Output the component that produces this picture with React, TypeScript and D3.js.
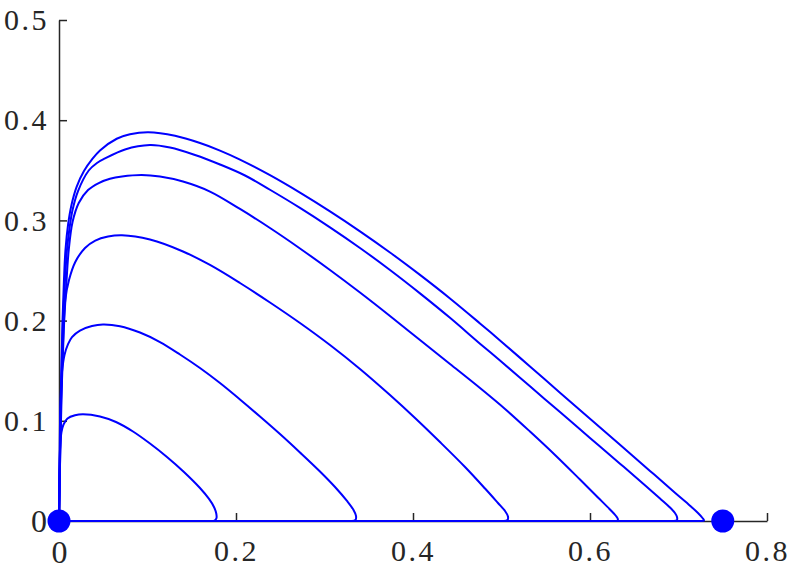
import { select, scaleLinear, line, curveCatmullRom, axisBottom, axisLeft } from "d3";
import React, { useEffect, useRef } from "react";

const xTicks = [0, 0.2, 0.4, 0.6, 0.8];
const yTicks = [0, 0.1, 0.2, 0.3, 0.4, 0.5];
const equilibria = [0, 0.75];

// orbits, smallest to largest; each one comes back along y = 0
const orbit1 = [
    [0, 0], [0.0005, 0.0509], [0.0014, 0.0758], [0.0028, 0.0888], [0.0051, 0.0963], [0.0096, 0.1023],
    [0.0181, 0.1055], [0.0271, 0.1065], [0.0463, 0.1043], [0.0644, 0.0988], [0.0836, 0.0893],
    [0.1028, 0.0773], [0.122, 0.0639], [0.1412, 0.0489], [0.1593, 0.0329], [0.1695, 0.022],
    [0.1751, 0.014], [0.1777, 0.0075], [0.1779, 0.0027], [0.1757, 0.0004], [0.1718, 0], [0, 0],
];
const orbit2 = [
    [0, 0], [0.0009, 0.0808], [0.0017, 0.1208], [0.0034, 0.1487], [0.0062, 0.1657], [0.0102, 0.1766],
    [0.0147, 0.1836], [0.0237, 0.1901], [0.0373, 0.1946], [0.0497, 0.1961], [0.0689, 0.1944],
    [0.0915, 0.1881], [0.1141, 0.1786], [0.1367, 0.1662], [0.1593, 0.1527], [0.1819, 0.1377],
    [0.2045, 0.1213], [0.2271, 0.1043], [0.2497, 0.0868], [0.2723, 0.0684], [0.2949, 0.0494],
    [0.3119, 0.0339], [0.3254, 0.02], [0.3328, 0.011], [0.3356, 0.005], [0.335, 0.001], [0.3311, 0], [0, 0],
];
const orbit3 = [
    [0, 0], [0.0015, 0.0908], [0.0028, 0.1407], [0.0045, 0.1776], [0.0071, 0.2206], [0.0113, 0.2405],
    [0.0184, 0.2585], [0.0294, 0.2725], [0.041, 0.2799], [0.0554, 0.2839], [0.0712, 0.2852],
    [0.1028, 0.2809], [0.1401, 0.269], [0.1706, 0.2555], [0.2045, 0.2375], [0.2384, 0.2181],
    [0.2723, 0.1976], [0.3062, 0.1756], [0.3401, 0.1517], [0.374, 0.1257], [0.4023, 0.1028],
    [0.4305, 0.0788], [0.4588, 0.0539], [0.4814, 0.0324], [0.496, 0.018], [0.504, 0.01],
    [0.5073, 0.0045], [0.5068, 0.001], [0.5028, 0], [0, 0],
];
const orbit4 = [
    [0, 0], [0.0017, 0.0808], [0.0034, 0.1407], [0.0054, 0.1906], [0.0079, 0.2305], [0.011, 0.2705],
    [0.0153, 0.2984], [0.0223, 0.3174], [0.0328, 0.3303], [0.0449, 0.3373], [0.0576, 0.3415],
    [0.0712, 0.3438], [0.0934, 0.3453], [0.1141, 0.3438], [0.1401, 0.3388], [0.1706, 0.3288],
    [0.2045, 0.3114], [0.2384, 0.2924], [0.2723, 0.272], [0.3062, 0.2505], [0.3401, 0.228],
    [0.374, 0.2046], [0.4079, 0.1806], [0.4418, 0.1567], [0.4757, 0.1327], [0.504, 0.1118],
    [0.5322, 0.0893], [0.5605, 0.0659], [0.5887, 0.0414], [0.609, 0.0235], [0.6226, 0.0115],
    [0.6294, 0.005], [0.6316, 0.0015], [0.6305, 0.0002], [0.626, 0], [0, 0],
];
const orbit5 = [
    [0, 0], [0.0016, 0.0808], [0.0028, 0.1407], [0.0045, 0.2006], [0.0068, 0.2405], [0.009, 0.2705],
    [0.0119, 0.2924], [0.0153, 0.3104], [0.0215, 0.3293], [0.0336, 0.3498], [0.0429, 0.3573],
    [0.052, 0.3618], [0.0746, 0.3708], [0.1028, 0.3752], [0.1254, 0.3727], [0.1537, 0.3653],
    [0.1819, 0.3558], [0.2102, 0.3448], [0.2384, 0.3306], [0.2723, 0.3125], [0.3062, 0.2931],
    [0.3401, 0.2725], [0.374, 0.2505], [0.4079, 0.2272], [0.4418, 0.2028], [0.4757, 0.177],
    [0.4983, 0.1602], [0.5322, 0.1344], [0.5661, 0.1087], [0.6, 0.0829], [0.6339, 0.0572],
    [0.6621, 0.0357], [0.6791, 0.0225], [0.6904, 0.0135], [0.696, 0.008], [0.6983, 0.004],
    [0.6983, 0.001], [0.6949, 0], [0, 0],
];
const orbit6 = [
    [0, 0], [0.0014, 0.0808], [0.0025, 0.1407], [0.004, 0.2006], [0.0056, 0.2405], [0.0073, 0.2705],
    [0.0102, 0.2954], [0.0141, 0.3154], [0.0198, 0.3333], [0.0282, 0.3493], [0.0373, 0.3608],
    [0.0463, 0.3698], [0.0652, 0.3815], [0.0802, 0.3859], [0.1009, 0.3879], [0.1311, 0.3844],
    [0.1593, 0.3772], [0.1819, 0.3697], [0.2045, 0.3607], [0.2384, 0.3451], [0.2723, 0.3277],
    [0.3062, 0.309], [0.3401, 0.2891], [0.374, 0.268], [0.4079, 0.2456], [0.4418, 0.2221],
    [0.4757, 0.1972], [0.4983, 0.1802], [0.5322, 0.1542], [0.5661, 0.1281], [0.6, 0.1021],
    [0.6339, 0.076], [0.6678, 0.05], [0.696, 0.0282], [0.713, 0.0153], [0.722, 0.008],
    [0.7271, 0.003], [0.7288, 0.0005], [0.7254, 0], [0, 0],
];
const orbits = [orbit1, orbit2, orbit3, orbit4, orbit5, orbit6];

const width = 797;
const height = 569;
const blue = "#0000ff";
const ink = "#262626";
const font = "'Liberation Serif', 'Times New Roman', serif";

export default function App() {
    const svgRef = useRef<SVGSVGElement>(null);

    useEffect(() => {
        const svg = select(svgRef.current);

        // scale
        const xScale = scaleLinear().domain([0, 0.8]).range([59, 767]);
        const yScale = scaleLinear().domain([0, 0.5]).range([521, 20]);

        // axis, ticks pointing inward
        const xAxis = axisBottom(xScale).tickValues(xTicks).tickFormat((d) => String(d))
            .tickSizeInner(-8).tickSizeOuter(0).tickPadding(19);
        const gx = svg.select(".x-axis").attr("transform", `translate(0,${yScale(0)})`).call(xAxis);

        const yAxis = axisLeft(yScale).tickValues(yTicks).tickFormat((d) => String(d))
            .tickSizeInner(-8).tickSizeOuter(0).tickPadding(10);
        const gy = svg.select(".y-axis").attr("transform", `translate(${xScale(0)},0)`).call(yAxis);

        [gx, gy].forEach((g) => {
            g.attr("color", ink).attr("font-family", font).attr("font-size", 30);
            g.select(".domain").attr("stroke-width", 1.5);
            g.selectAll(".tick line").attr("stroke-width", 1.5);
            g.selectAll(".tick text").attr("letter-spacing", 2.5)
                .filter((d) => d === 0).attr("font-size", 32).attr("letter-spacing", 0);
        });
        gy.selectAll(".tick text").filter((d) => d === 0).attr("x", -12);

        const arch = line()
            .x((d) => xScale(d[0]))
            .y((d) => yScale(d[1]))
            .curve(curveCatmullRom.alpha(0.5));

        // smooth arch, then straight back to the origin along the x axis
        const orbitPath = (d) => {
            const last = d[d.length - 1];
            return arch(d.slice(0, -1)) + `L${xScale(last[0])},${yScale(last[1])}`;
        };

        svg.select(".orbits")
            .selectAll("path")
            .data(orbits)
            .join("path")
            .attr("d", orbitPath)
            .attr("fill", "none")
            .attr("stroke", blue)
            .attr("stroke-width", 2)
            .attr("stroke-linejoin", "round");

        svg.select(".points")
            .selectAll("circle")
            .data(equilibria)
            .join("circle")
            .attr("cx", (d) => xScale(d))
            .attr("cy", yScale(0))
            .attr("r", 11.5)
            .attr("fill", blue);
    }, []);

    return (
        <svg ref={svgRef} width={width} height={height}
            style={{ position: "absolute", left: 0, top: 0, background: "#fff" }}>
            <g className="x-axis" />
            <g className="y-axis" />
            <g className="orbits" />
            <g className="points" />
        </svg>
    );
}
